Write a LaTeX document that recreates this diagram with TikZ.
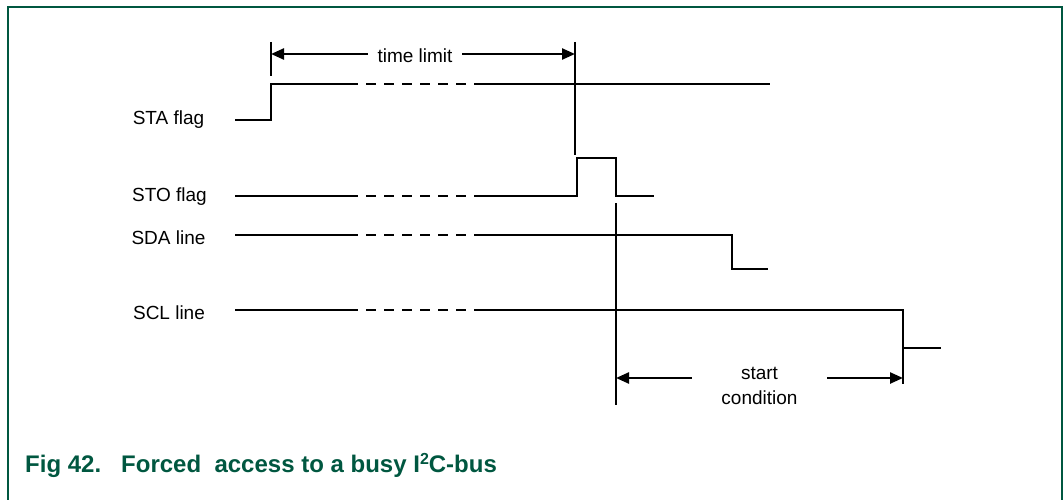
\documentclass[tikz,border=0pt]{standalone}
\usepackage{fontspec}
\setmainfont{Liberation Sans}
\usetikzlibrary{arrows.meta}
\definecolor{nxpgreen}{RGB}{0,87,64}
\newcommand{\mysup}[1]{\raisebox{0.33em}{\fontsize{16}{18}\selectfont #1}}
\begin{document}
\begin{tikzpicture}[x=1pt,y=-1pt,
  sig/.style={line width=2.4pt},
  marker/.style={line width=2.4pt},
  dim/.style={line width=2.4pt,-{Triangle[length=13pt,width=11pt]}},
  lbl/.style={font=\fontsize{19}{25}\selectfont, inner sep=0pt},
  dsh/.style={line width=2.4pt, dash pattern=on 10pt off 8pt}]
\useasboundingbox (0,0) rectangle (1063,500);
\draw[nxpgreen, line width=1.5pt] (8,500) -- (8,7) -- (1062,7) -- (1062,500);

% labels
\node[lbl] (sta) at (168.5,120) {STA flag};
\node[lbl] (sto) at (169.5,197) {STO flag};
\node[lbl] (sda) at (168.5,238) {SDA line};
\node[lbl] (scl) at (169,313) {SCL line};

% STA flag
\draw[sig] (235,120) -- (271,120) -- (271,84) -- (358,84);
\draw[dsh] (366,84) -- (466,84);
\draw[sig] (474,84) -- (770,84);

% STO flag
\draw[sig] (235,196) -- (358,196);
\draw[dsh] (366,196) -- (466,196);
\draw[sig] (474,196) -- (577,196) -- (577,158) -- (616,158) -- (616,196) -- (654,196);

% SDA line
\draw[sig] (235,235) -- (358,235);
\draw[dsh] (366,235) -- (466,235);
\draw[sig] (474,235) -- (732,235) -- (732,269) -- (768,269);

% SCL line
\draw[sig] (235,310) -- (358,310);
\draw[dsh] (366,310) -- (466,310);
\draw[sig] (474,310) -- (903,310) -- (903,348) -- (941,348);

% markers
\coordinate (m1a) at (271,42);  \coordinate (m1b) at (271,76);
\coordinate (m2a) at (575,42);  \coordinate (m2b) at (575,155);
\coordinate (m3a) at (616,203); \coordinate (m3b) at (616,405);
\coordinate (m4a) at (903,348); \coordinate (m4b) at (903,384);
\draw[marker] (m1a) -- (m1b);
\draw[marker] (m2a) -- (m2b);
\draw[marker] (m3a) -- (m3b);
\draw[marker] (m4a) -- (m4b);

% time limit
\coordinate (tlL) at (271,54);
\coordinate (tlR) at (575,54);
\node[lbl, minimum width=94pt] (tl) at (415,56) {time limit};
\draw[dim] (tl.west |- tlL) -- (tlL);
\draw[dim] (tl.east |- tlR) -- (tlR);

% start condition
\coordinate (scL) at (616,378);
\coordinate (scR) at (903,378);
\node[lbl, minimum width=135pt, align=center] (sc) at (759.5,386) {start\\condition};
\draw[dim] (sc.west |- scL) -- (scL);
\draw[dim] (sc.east |- scR) -- (scR);

% caption
\node[anchor=base west, inner sep=0pt, text=nxpgreen,
      font=\fontsize{24}{28}\selectfont\bfseries] (cap) at (25,472)
  {Fig 42.\hspace{20pt}Forced\ \ access to a busy I\mysup{2}C-bus};
\end{tikzpicture}
\end{document}
